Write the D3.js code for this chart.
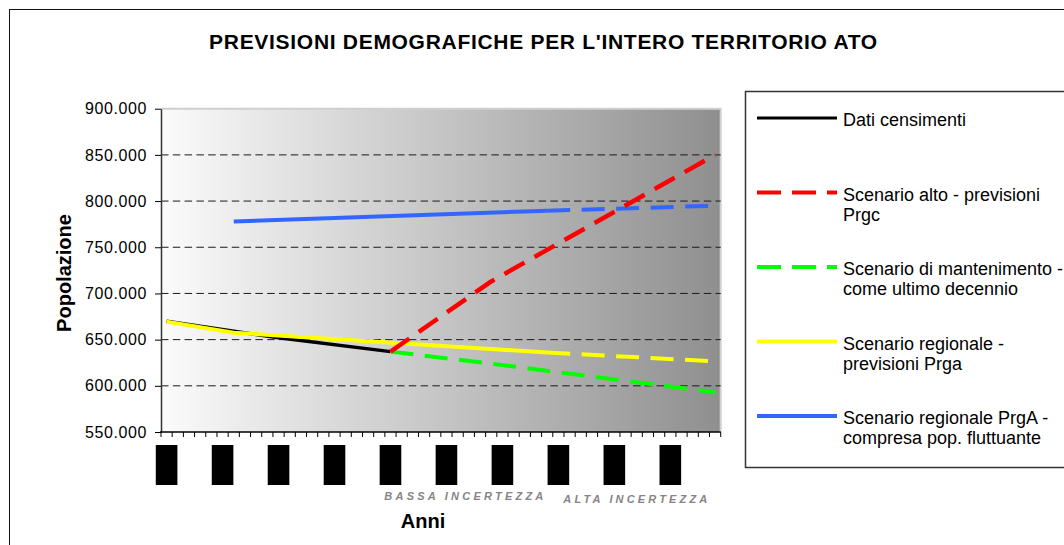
<!DOCTYPE html>
<html>
<head>
<meta charset="utf-8">
<script src="https://cdn.jsdelivr.net/npm/d3@7"></script>
<style>
body { margin: 0; background: #fff; }
svg { display: block; font-family: "Liberation Sans", Arial, sans-serif; }
</style>
</head>
<body>
<svg width="1064" height="545"></svg>
<script>
// categorie: anni (etichette coperte nel grafico originale)
const anni = d3.range(1981, 2031);
const anniEtichette = anni.filter((d, i) => i % 5 == 0);
const yTicks = [550000, 600000, 650000, 700000, 750000, 800000, 850000, 900000];
const yGriglia = [600000, 650000, 700000, 750000, 800000, 850000];

// serie [anno, popolazione]
const datiCensimenti = [[1981, 670000], [1991, 652000], [2001, 637000]];
const scenarioAlto = [[2001, 637000], [2010, 713000], [2030, 850000]];
const scenarioMantenimento = [[2001, 637000], [2010, 624000], [2030, 593000]];
const regionalePrga = [[1981, 669500], [1987, 657500], [2015, 636000]];
const regionalePrgaPrev = [[2015, 636000], [2030, 626500]];
const regionalePrgA = [[1987, 778000], [2015, 789500]];
const regionalePrgAPrev = [[2015, 789500], [2030, 795000]];

const legenda = [
	{ righe: ["Dati censimenti"], colore: "#000000", tratteggio: false },
	{ righe: ["Scenario alto - previsioni", "Prgc"], colore: "#ff0000", tratteggio: true },
	{ righe: ["Scenario di mantenimento -", "come ultimo decennio"], colore: "#00ff00", tratteggio: true },
	{ righe: ["Scenario regionale -", "previsioni Prga"], colore: "#ffff00", tratteggio: false },
	{ righe: ["Scenario regionale PrgA -", "compresa pop. fluttuante"], colore: "#3366ff", tratteggio: false }
];

const svg = d3.select("svg");
const pLeft = 161, pRight = 720.7, pTop = 108.7, pBottom = 432;

const x = d3.scaleBand().domain(anni).range([pLeft, pRight]);
const bw = x.bandwidth();
const y = d3.scaleLinear().domain([550000, 900000]).range([pBottom, pTop]);

const it = d3.formatLocale({ decimal: ",", thousands: ".", grouping: [3], currency: ["€", ""] });
const fmt = it.format(",d");

// cornice esterna
svg.append("rect")
	.attr("x", 9.5).attr("y", 9.5)
	.attr("width", 1100).attr("height", 600)
	.attr("fill", "none").attr("stroke", "#111").attr("stroke-width", 1);

// sfondo area grafico
const defs = svg.append("defs");
const grad = defs.append("linearGradient").attr("id", "sfondo")
	.attr("x1", 0).attr("x2", 1).attr("y1", 0).attr("y2", 0);
grad.append("stop").attr("offset", 0).attr("stop-color", "#fbfbfb");
grad.append("stop").attr("offset", 1).attr("stop-color", "#8f8f8f");

svg.append("rect")
	.attr("x", pLeft).attr("y", pTop)
	.attr("width", pRight - pLeft).attr("height", pBottom - pTop)
	.attr("fill", "url(#sfondo)");

svg.append("path")
	.attr("d", `M${pLeft},${pTop}H${pRight}V${pBottom}`)
	.attr("fill", "none").attr("stroke", "#cfcfcf").attr("stroke-width", 2);

// griglia
svg.append("g")
	.selectAll("line")
	.data(yGriglia)
	.join("line")
	.attr("x1", pLeft).attr("x2", pRight)
	.attr("y1", d => y(d)).attr("y2", d => y(d))
	.attr("stroke", "#1a1a1a")
	.attr("stroke-width", 1)
	.attr("stroke-dasharray", "7.5,4.3");

// asse y
const yAxis = svg.append("g")
	.attr("transform", `translate(${pLeft},0)`)
	.call(d3.axisLeft(y).tickValues(yTicks).tickSize(6).tickSizeOuter(0).tickPadding(8).tickFormat(fmt));
yAxis.select(".domain").attr("stroke", "#333").attr("stroke-width", 1.5);
yAxis.selectAll(".tick line").attr("stroke", "#000");
yAxis.selectAll(".tick text")
	.attr("font-family", "Liberation Sans, Arial, sans-serif")
	.attr("font-size", 16)
	.attr("letter-spacing", 0.6)
	.attr("fill", "#000");

// asse x: tacche tra le categorie
const tacche = anni.map(d => x(d)).concat([pRight]);
svg.append("g")
	.selectAll("line")
	.data(tacche)
	.join("line")
	.attr("x1", d => d).attr("x2", d => d)
	.attr("y1", pBottom).attr("y2", pBottom + 5)
	.attr("stroke", "#000").attr("stroke-width", 1);

svg.append("line")
	.attr("x1", pLeft - 1).attr("x2", pRight)
	.attr("y1", pBottom).attr("y2", pBottom)
	.attr("stroke", "#000").attr("stroke-width", 1.5);

// etichette anni (coperte)
svg.append("g")
	.selectAll("rect")
	.data(anniEtichette)
	.join("rect")
	.attr("x", d => x(d) + bw / 2 - 10.8)
	.attr("y", 445)
	.attr("width", 21.6)
	.attr("height", 40)
	.attr("fill", "#000");

// serie
const linea = d3.line()
	.x(d => x(d[0]) + bw / 2)
	.y(d => y(d[1]));

const serie = [
	{ dati: datiCensimenti, colore: "#000000", w: 3.5, dash: null },
	{ dati: regionalePrga, colore: "#ffff00", w: 4, dash: null },
	{ dati: regionalePrgaPrev, colore: "#ffff00", w: 4, dash: "23,11.5" },
	{ dati: regionalePrgA, colore: "#3366ff", w: 4, dash: null },
	{ dati: regionalePrgAPrev, colore: "#3366ff", w: 4, dash: "23,11.5" },
	{ dati: scenarioMantenimento, colore: "#00ff00", w: 4, dash: "23,11.5" },
	{ dati: scenarioAlto, colore: "#ff0000", w: 4.5, dash: "23,11.5" }
];

svg.append("g")
	.selectAll("path")
	.data(serie)
	.join("path")
	.attr("d", d => linea(d.dati))
	.attr("fill", "none")
	.attr("stroke", d => d.colore)
	.attr("stroke-width", d => d.w)
	.attr("stroke-dasharray", d => d.dash)
	.attr("stroke-linejoin", "round");

// titoli
svg.append("text")
	.attr("x", 543.5).attr("y", 48.5)
	.attr("text-anchor", "middle")
	.attr("font-size", 21).attr("font-weight", "bold")
	.attr("letter-spacing", 0.7)
	.text("PREVISIONI DEMOGRAFICHE PER L'INTERO TERRITORIO ATO");

svg.append("text")
	.attr("transform", "translate(71,273) rotate(-90)")
	.attr("text-anchor", "middle")
	.attr("font-size", 20).attr("font-weight", "bold")
	.text("Popolazione");

svg.append("text")
	.attr("x", 423).attr("y", 528)
	.attr("text-anchor", "middle")
	.attr("font-size", 20).attr("font-weight", "bold")
	.text("Anni");

svg.append("text")
	.attr("x", 384.3).attr("y", 500)
	.attr("font-size", 11).attr("font-weight", "bold").attr("font-style", "italic")
	.attr("fill", "#858585")
	.attr("textLength", 159).attr("lengthAdjust", "spacing")
	.text("BASSA INCERTEZZA");

svg.append("text")
	.attr("x", 563.3).attr("y", 502.7)
	.attr("font-size", 11).attr("font-weight", "bold").attr("font-style", "italic")
	.attr("fill", "#858585")
	.attr("textLength", 144).attr("lengthAdjust", "spacing")
	.text("ALTA INCERTEZZA");

// legenda
svg.append("rect")
	.attr("x", 745.5).attr("y", 91.5)
	.attr("width", 400).attr("height", 376)
	.attr("fill", "#fff").attr("stroke", "#333").attr("stroke-width", 1.5);

const voci = svg.append("g")
	.selectAll("g")
	.data(legenda)
	.join("g")
	.attr("transform", (d, i) => `translate(0,${118 + i * 74.5})`);

voci.append("line")
	.attr("x1", 757).attr("x2", 837)
	.attr("y1", 0).attr("y2", 0)
	.attr("stroke", d => d.colore)
	.attr("stroke-width", (d, i) => i == 0 ? 3 : 4)
	.attr("stroke-dasharray", d => d.tratteggio ? "24,11" : null);

voci.append("text")
	.attr("x", 843)
	.attr("font-size", 18)
	.attr("fill", "#000")
	.selectAll("tspan")
	.data(d => d.righe)
	.join("tspan")
	.attr("x", 843)
	.attr("y", (d, i) => 8.4 + i * 20)
	.text(d => d);
</script>
</body>
</html>
